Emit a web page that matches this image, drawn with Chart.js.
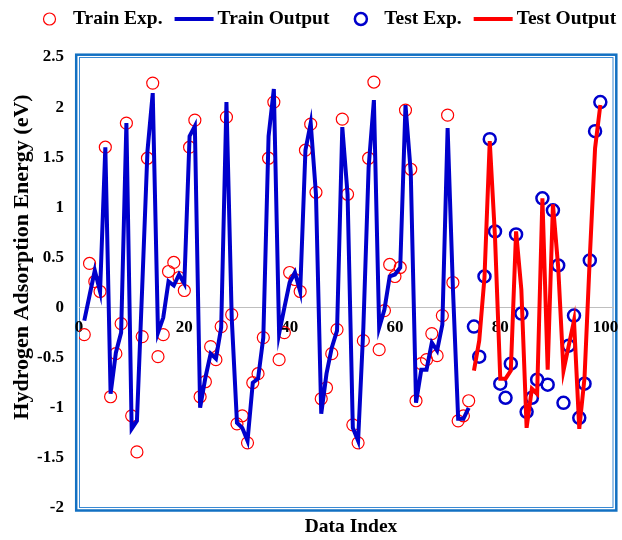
<!DOCTYPE html>
<html>
<head>
<meta charset="utf-8">
<title>Hydrogen Adsorption Energy</title>
<script src="https://cdn.jsdelivr.net/npm/chart.js@4.4.1/dist/chart.umd.min.js"></script>
<style>
  html, body { margin: 0; padding: 0; background: #ffffff; }
  #wrap { width: 622px; height: 540px; }
</style>
</head>
<body>
<div id="wrap"><canvas id="chart" width="622" height="540"></canvas></div>
<script>
// Experimental and model values (eV), training samples 1..74
const trainExp = [
  -0.27, 0.44, 0.26, 0.16, 1.60, -0.89, -0.46, -0.16, 1.84, -1.08,
  -1.44, -0.29, 1.49, 2.24, -0.49, -0.27, 0.36, 0.45, 0.30, 0.17,
  1.60, 1.87, -0.89, -0.74, -0.39, -0.52, -0.19, 1.90, -0.07, -1.16,
  -1.08, -1.35, -0.75, -0.66, -0.30, 1.49, 2.05, -0.52, -0.25, 0.35,
  0.28, 0.16, 1.57, 1.83, 1.15, -0.91, -0.80, -0.46, -0.22, 1.88,
  1.13, -1.17, -1.35, -0.33, 1.49, 2.25, -0.42, -0.03, 0.43, 0.31,
  0.40, 1.97, 1.38, -0.93, -0.56, -0.52, -0.26, -0.48, -0.08, 1.92,
  0.25, -1.13, -1.08, -0.93
];
const trainOut = [
  -0.13, 0.12, 0.37, 0.16, 1.60, -0.86, -0.45, -0.25, 1.84, -1.21,
  -1.13, 0.20, 1.56, 2.14, -0.25, -0.10, 0.26, 0.22, 0.33, 0.24,
  1.71, 1.81, -1.00, -0.70, -0.46, -0.51, -0.20, 2.05, -0.10, -1.15,
  -1.20, -1.33, -0.75, -0.71, -0.30, 1.71, 2.18, -0.26, 0.00, 0.25,
  0.35, 0.16, 1.57, 1.84, 1.13, -1.06, -0.66, -0.40, -0.23, 1.80,
  1.13, -1.20, -1.33, -0.20, 1.40, 2.07, -0.20, -0.02, 0.31, 0.33,
  0.40, 2.02, 1.35, -0.95, -0.62, -0.62, -0.35, -0.43, -0.17, 1.79,
  0.20, -1.11, -1.11, -1.00
];
// Test samples 75..99
const testExp = [
  -0.19, -0.49, 0.31, 1.68, 0.76, -0.76, -0.90, -0.56, 0.73, -0.06,
  -1.04, -0.90, -0.72, 1.09, -0.77, 0.97, 0.42, -0.95, -0.38, -0.08,
  -1.10, -0.76, 0.47, 1.76, 2.05
];
const testOut = [
  -0.63, -0.33, 0.30, 1.66, 0.70, -0.71, -0.71, -0.63, 0.76, 0.18,
  -1.20, -0.81, -0.86, 1.09, -0.62, 1.03, 0.40, -0.63, -0.38, -0.13,
  -1.21, -0.70, 0.50, 1.59, 2.02
];
const trainFirstIndex = 1;
const testFirstIndex = 75;
const xTicks = [0, 20, 40, 60, 80, 100];
const yTicks = [-2, -1.5, -1, -0.5, 0, 0.5, 1, 1.5, 2, 2.5];

const trainIndex = trainExp.map((_, k) => trainFirstIndex + k);
const testIndex = testExp.map((_, k) => testFirstIndex + k);
const toPoints = (idx, vals) => vals.map((v, k) => ({ x: idx[k], y: v }));

const SERIF = "'Liberation Serif', 'Times New Roman', serif";
const BLUE = '#0000CC';
const RED = '#FF0000';
const tickFont = { family: SERIF, size: 17, weight: 'bold' };

const legendItems = [
  { text: 'Train Exp.', kind: 'circle', color: RED, width: 1.2 },
  { text: 'Train Output', kind: 'line', color: BLUE, width: 4 },
  { text: 'Test Exp.', kind: 'circle', color: BLUE, width: 2.5 },
  { text: 'Test Output', kind: 'line', color: RED, width: 4 }
];

// Double blue frame around the plot, legend row, vertical and horizontal axis titles
const decorations = {
  id: 'decorations',
  beforeDraw(chart) {
    const { ctx, chartArea: a } = chart;
    ctx.save();
    ctx.strokeStyle = '#1270C2';
    ctx.lineWidth = 2.5;
    ctx.strokeRect(a.left - 2.8, a.top - 2.3, a.right - a.left + 5.6, a.bottom - a.top + 4.8);
    ctx.strokeStyle = '#3A8AD4';
    ctx.lineWidth = 1;
    ctx.strokeRect(a.left + 0.5, a.top + 0.5, a.right - a.left - 1, a.bottom - a.top - 1);
    ctx.restore();
  },
  afterDraw(chart) {
    const { ctx } = chart;
    ctx.save();
    ctx.font = `bold 19.5px ${SERIF}`;
    ctx.textBaseline = 'middle';
    ctx.textAlign = 'left';
    ctx.fillStyle = '#000';
    const y = 19;
    const sample = 39, gapText = 4, gapItem = 12;
    let x = 30;
    legendItems.forEach(it => {
      ctx.beginPath();
      ctx.strokeStyle = it.color;
      ctx.lineWidth = it.width;
      if (it.kind === 'circle') {
        ctx.arc(x + sample / 2, y, 6, 0, Math.PI * 2);
      } else {
        ctx.moveTo(x, y);
        ctx.lineTo(x + sample, y);
      }
      ctx.stroke();
      x += sample + gapText;
      ctx.fillText(it.text, x, y);
      x += ctx.measureText(it.text).width + gapItem;
    });

    // horizontal axis title
    ctx.textAlign = 'center';
    ctx.fillText('Data Index', 351, 527);

    // vertical axis title
    ctx.translate(22, 257);
    ctx.rotate(-Math.PI / 2);
    ctx.font = `bold 22px ${SERIF}`;
    ctx.fillText('Hydrogen Adsorption Energy (eV)', 0, 0);
    ctx.restore();
  }
};

new Chart(document.getElementById('chart'), {
  type: 'scatter',
  data: {
    datasets: [
      {
        label: 'Train Output',
        data: toPoints(trainIndex, trainOut),
        showLine: true,
        borderColor: BLUE,
        borderWidth: 4,
        pointRadius: 0,
        tension: 0,
        order: 0
      },
      {
        label: 'Test Output',
        data: toPoints(testIndex, testOut),
        showLine: true,
        borderColor: RED,
        borderWidth: 4,
        pointRadius: 0,
        tension: 0,
        order: 0
      },
      {
        label: 'Train Exp.',
        data: toPoints(trainIndex, trainExp),
        showLine: false,
        pointRadius: 6,
        pointBorderWidth: 1.2,
        borderColor: RED,
        backgroundColor: 'rgba(0,0,0,0)',
        order: 1
      },
      {
        label: 'Test Exp.',
        data: toPoints(testIndex, testExp),
        showLine: false,
        pointRadius: 6,
        pointBorderWidth: 2.5,
        borderColor: BLUE,
        backgroundColor: 'rgba(0,0,0,0)',
        order: 1
      }
    ]
  },
  options: {
    responsive: false,
    animation: false,
    events: [],
    layout: { padding: { top: 57, right: 8, bottom: 32, left: 0 } },
    plugins: {
      legend: { display: false },
      tooltip: { enabled: false },
      title: { display: false }
    },
    scales: {
      x: {
        type: 'linear',
        min: 0,
        max: 101.5,
        position: { y: 0 },
        grid: { display: false, drawTicks: false },
        border: { display: true, color: '#BFBFBF', width: 1 },
        ticks: { padding: 10, font: tickFont, color: '#000', maxRotation: 0, autoSkip: false },
        afterBuildTicks: s => { s.ticks = xTicks.map(v => ({ value: v })); },
        afterFit: s => { s.paddingLeft = 0; s.paddingRight = 0; }
      },
      y: {
        type: 'linear',
        min: -2,
        max: 2.5,
        grid: { display: false, drawTicks: false },
        border: { display: false },
        ticks: { padding: 15, font: tickFont, color: '#000', callback: v => String(v) },
        afterBuildTicks: s => { s.ticks = yTicks.map(v => ({ value: v })); },
        afterFit: s => { s.width = 79; }
      }
    }
  },
  plugins: [decorations]
});
</script>
</body>
</html>
